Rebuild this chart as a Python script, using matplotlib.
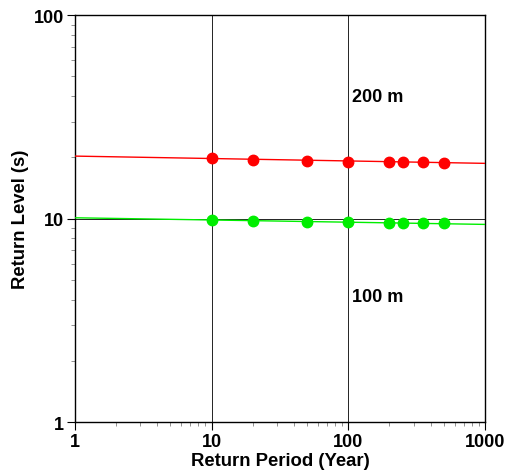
import matplotlib.pyplot as plt

plt.rcParams['font.family'] = ['Liberation Sans', 'DejaVu Sans']
plt.rcParams['font.weight'] = 'bold'

# return periods (years) and return levels (s)
periods = [10, 20, 50, 100, 200, 250, 350, 500]
level_200m = [19.9, 19.5, 19.1, 19.0, 18.9, 18.9, 18.9, 18.85]
level_100m = [9.89, 9.74, 9.6, 9.6, 9.52, 9.52, 9.52, 9.52]

# fitted lines over the full period range
fit_x = [1, 1000]
fit_200m = [20.3, 18.7]
fit_100m = [10.1, 9.37]

fig = plt.figure(figsize=(5.09, 4.77), dpi=100)
ax = fig.add_axes([0.147, 0.113, 0.806, 0.853])

ax.plot(fit_x, fit_200m, color='#ff0000', lw=1.0, zorder=3)
ax.plot(fit_x, fit_100m, color='#00ee00', lw=1.0, zorder=3)
ax.plot(periods, level_200m, 'o', color='#ff0000', ms=7.5, zorder=4)
ax.plot(periods, level_100m, 'o', color='#00ee00', ms=7.5, zorder=4)

ax.set_xscale('log')
ax.set_yscale('log')
ax.set_xlim(1, 1000)
ax.set_ylim(1, 100)
ax.set_xticks([1, 10, 100, 1000])
ax.set_xticklabels(['1', '10', '100', '1000'])
ax.set_yticks([1, 10, 100])
ax.set_yticklabels(['1', '10', '100'])
ax.grid(True, which='major', color='black', lw=0.6, zorder=1)

ax.tick_params(which='major', direction='out', length=6, width=0.8,
               labelsize=13, colors='black', pad=2)
ax.tick_params(which='minor', direction='out', length=3, width=0.6,
               color='gray')
for sp in ax.spines.values():
    sp.set_linewidth(1.0)

ax.text(106, 40, '200 m', fontsize=13, fontweight='bold', va='center')
ax.text(106, 4.16, '100 m', fontsize=13, fontweight='bold', va='center')

ax.set_xlabel('Return Period (Year)', fontsize=13.3, fontweight='bold', labelpad=1)
ax.set_ylabel('Return Level (s)', fontsize=13.3, fontweight='bold', labelpad=3)

plt.savefig('out.png', dpi=100)
